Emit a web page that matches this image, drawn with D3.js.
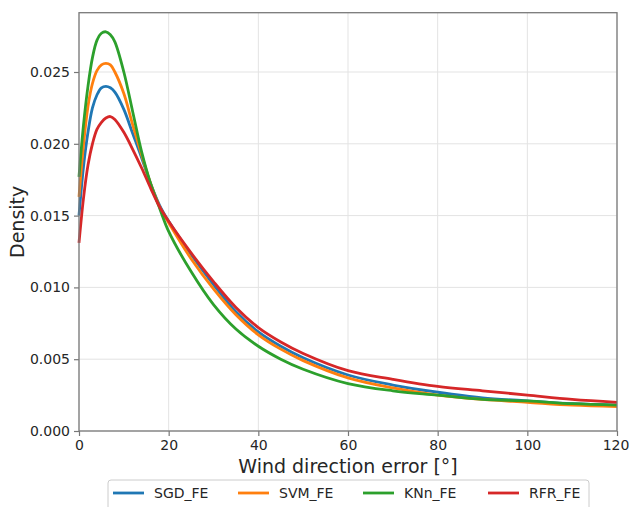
<!DOCTYPE html>
<html>
<head>
<meta charset="utf-8">
<script src="https://cdn.jsdelivr.net/npm/d3@7/dist/d3.min.js"></script>
<style>
  html, body { margin: 0; padding: 0; background: #fff; }
  svg { display: block; font-family: "DejaVu Sans", sans-serif; }
</style>
</head>
<body>
<div id="chart"></div>
<script>
/* --- dados ------------------------------------------------------------- */
var xs = [0, 1, 2, 3, 4, 5, 6, 7, 8, 10, 12, 14, 16, 18, 20, 25, 30, 35, 40, 45, 50, 60, 70, 80, 90, 100, 110, 120];

var sgd = [0.0150, 0.0184, 0.0208, 0.0225, 0.0234, 0.0239, 0.0240, 0.0239, 0.0236, 0.0224, 0.0207, 0.0190, 0.0172, 0.0157, 0.0146,
           0.0123, 0.0102, 0.0083, 0.0069, 0.0059, 0.0051, 0.0039, 0.0032, 0.0027, 0.0023, 0.0021, 0.0019, 0.0018];
var svm = [0.0163, 0.0199, 0.0226, 0.0242, 0.0251, 0.0255, 0.0256, 0.0255, 0.0250, 0.0235, 0.0213, 0.0192, 0.0172, 0.0156, 0.0145,
           0.0120, 0.0099, 0.0081, 0.0067, 0.0057, 0.0049, 0.0037, 0.0030, 0.0025, 0.0022, 0.0020, 0.0018, 0.0017];
var knn = [0.0177, 0.0213, 0.0240, 0.0260, 0.0272, 0.0277, 0.0278, 0.0276, 0.0271, 0.0250, 0.0222, 0.0194, 0.0172, 0.0155, 0.0139,
           0.0111, 0.0088, 0.0071, 0.0059, 0.0050, 0.0043, 0.0033, 0.0028, 0.0025, 0.0022, 0.0021, 0.0019, 0.0018];
var rfr = [0.0131, 0.0162, 0.0185, 0.0200, 0.0210, 0.0215, 0.0218, 0.0219, 0.0217, 0.0208, 0.0196, 0.0183, 0.0169, 0.0156, 0.0146,
           0.0124, 0.0104, 0.0086, 0.0072, 0.0062, 0.0054, 0.0042, 0.0036, 0.0031, 0.0028, 0.0025, 0.0022, 0.0020];

var seriesNames  = ['SGD_FE', 'SVM_FE', 'KNn_FE', 'RFR_FE'];
var seriesValues = [sgd, svm, knn, rfr];
var colors       = ['#1f77b4', '#ff7f0e', '#2ca02c', '#d62728'];

var xTicks = [0, 20, 40, 60, 80, 100, 120];
var yTicks = [0, 0.005, 0.010, 0.015, 0.020, 0.025];

/* --- dimensões --------------------------------------------------------- */
var W = 629, H = 507;
var m = { top: 12.7, right: 12, bottom: 76, left: 79 };
var iw = W - m.left - m.right;
var ih = H - m.top - m.bottom;

var svg = d3.select('#chart').append('svg').attr('width', W).attr('height', H);

var x = d3.scaleLinear().domain([0, 120]).range([0, iw]);
var y = d3.scaleLinear().domain([0, 0.02913]).range([ih, 0]);

var g = svg.append('g').attr('transform', 'translate(' + m.left + ',' + m.top + ')');

/* grade */
g.append('g').selectAll('line').data(xTicks).join('line')
  .attr('x1', function (d) { return x(d); }).attr('x2', function (d) { return x(d); })
  .attr('y1', 0).attr('y2', ih)
  .attr('stroke', '#e3e3e3').attr('stroke-width', 1);
g.append('g').selectAll('line').data(yTicks).join('line')
  .attr('y1', function (d) { return y(d); }).attr('y2', function (d) { return y(d); })
  .attr('x1', 0).attr('x2', iw)
  .attr('stroke', '#e3e3e3').attr('stroke-width', 1);

/* curvas */
var line = d3.line()
  .x(function (d) { return x(d[0]); })
  .y(function (d) { return y(d[1]); })
  .curve(d3.curveCatmullRom.alpha(0.5));

seriesValues.forEach(function (vals, i) {
  g.append('path')
    .datum(xs.map(function (xv, j) { return [xv, vals[j]]; }))
    .attr('fill', 'none')
    .attr('stroke', colors[i])
    .attr('stroke-width', 2.8)
    .attr('stroke-linejoin', 'round')
    .attr('d', line);
});

/* eixos */
var xAxis = g.append('g').attr('transform', 'translate(0,' + ih + ')')
  .call(d3.axisBottom(x).tickValues(xTicks).tickSize(5).tickPadding(4));
var yAxis = g.append('g')
  .call(d3.axisLeft(y).tickValues(yTicks).tickFormat(d3.format('.3f')).tickSize(5).tickPadding(4));

[xAxis, yAxis].forEach(function (ax) {
  ax.select('.domain').remove();
  ax.selectAll('.tick line').attr('stroke', '#777').attr('stroke-width', 1.2);
  ax.selectAll('.tick text').attr('fill', '#262626')
    .style('font-size', '14px').style('font-family', '"DejaVu Sans", sans-serif');
});
/* "120" encosta na borda direita: puxa um pouco */
xAxis.selectAll('.tick text').filter(function (d) { return d === 120; }).attr('dx', -1.5);

/* moldura */
g.append('rect').attr('x', 0).attr('y', 0).attr('width', iw).attr('height', ih)
  .attr('fill', 'none').attr('stroke', '#7a7a7a').attr('stroke-width', 1.3);

/* rótulos dos eixos */
svg.append('text')
  .attr('x', m.left + iw / 2).attr('y', 473)
  .attr('text-anchor', 'middle').attr('fill', '#262626')
  .style('font-size', '19px')
  .text('Wind direction error [°]');

svg.append('text')
  .attr('transform', 'translate(24,' + (m.top + ih / 2) + ') rotate(-90)')
  .attr('text-anchor', 'middle').attr('fill', '#262626')
  .style('font-size', '19px')
  .text('Density');

/* legenda */
var leg = svg.append('g');
leg.append('rect')
  .attr('x', 108).attr('y', 480).attr('width', 481).attr('height', 34)
  .attr('rx', 3).attr('fill', '#fff').attr('stroke', '#cccccc').attr('stroke-width', 1);

var legX = [113, 238, 363, 488];
seriesNames.forEach(function (name, i) {
  leg.append('line')
    .attr('x1', legX[i]).attr('x2', legX[i] + 31)
    .attr('y1', 493).attr('y2', 493)
    .attr('stroke', colors[i]).attr('stroke-width', 2.8);
  leg.append('text')
    .attr('x', legX[i] + 41).attr('y', 498)
    .attr('fill', '#262626').style('font-size', '14px')
    .text(name);
});
</script>
</body>
</html>
